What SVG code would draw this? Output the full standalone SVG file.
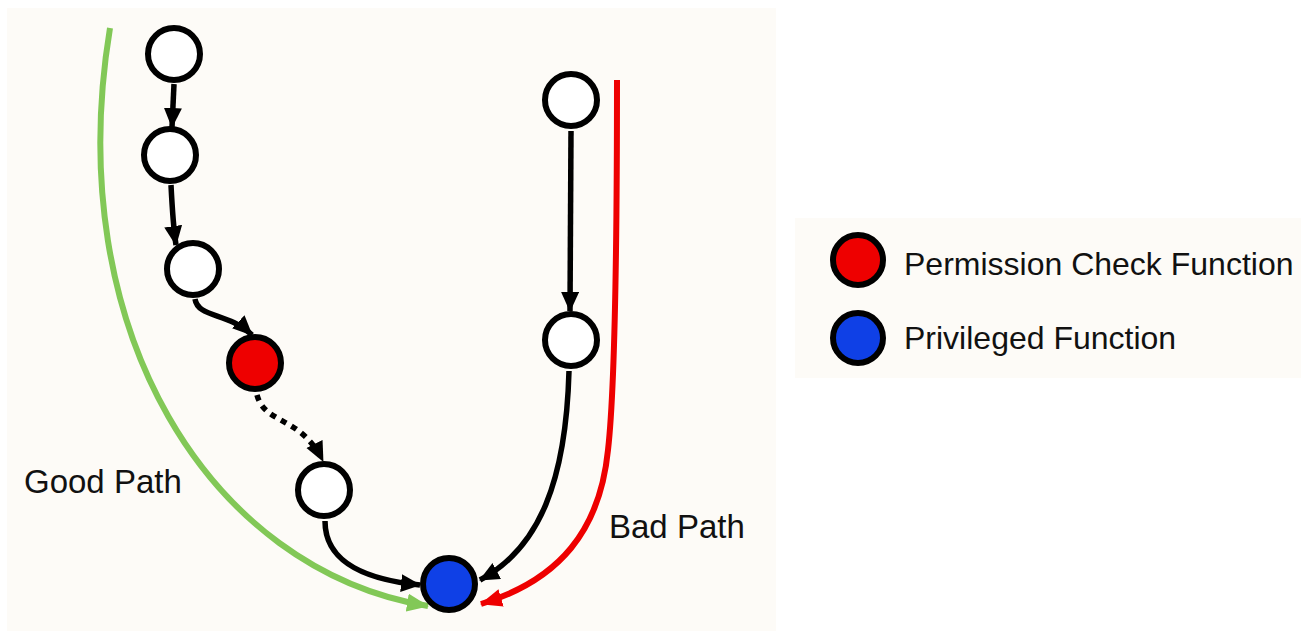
<svg xmlns="http://www.w3.org/2000/svg" width="1301" height="631" viewBox="0 0 1301 631">
  <style>
    .panel { fill: #fdfbf7; }
    .node { fill: #ffffff; stroke: #000000; stroke-width: 6; }
    .check { fill: #ee0000; }
    .priv { fill: #0f40e6; }
    .edge { fill: none; stroke: #000000; stroke-width: 5.5; }
    .dotted { stroke-dasharray: 6 6; }
    .good { fill: none; stroke: #82c857; stroke-width: 6; }
    .bad { fill: none; stroke: #ee0000; stroke-width: 6; }
    .label { font-family: "Liberation Sans", Arial, sans-serif; fill: #111111; }
  </style>
  <defs>
    <marker id="arrow" markerUnits="userSpaceOnUse" markerWidth="22" markerHeight="20" refX="19" refY="9" orient="auto">
      <path d="M0,0 L20,9 L0,18 z" fill="#000000"/>
    </marker>
    <marker id="arrow-green" markerUnits="userSpaceOnUse" markerWidth="24" markerHeight="20" refX="21" refY="9" orient="auto">
      <path d="M0,0 L22,9 L0,18 z" fill="#82c857"/>
    </marker>
    <marker id="arrow-red" markerUnits="userSpaceOnUse" markerWidth="24" markerHeight="20" refX="21" refY="9" orient="auto">
      <path d="M0,0 L22,9 L0,18 z" fill="#ee0000"/>
    </marker>
  </defs>

  <!-- backgrounds -->
  <rect class="panel" x="7" y="8" width="769" height="623"/>
  <rect class="panel" x="795" y="218" width="506" height="160"/>

  <!-- connectors -->
  <g id="connectors">
    <path class="good" d="M110,28 C60,330 210,570 428,606" marker-end="url(#arrow-green)"/>
    <path class="bad" d="M617,80 C617,200 616,380 608,450 C600,530 560,580 481,604" marker-end="url(#arrow-red)"/>
    <path class="edge" d="M174,84 L172,127" marker-end="url(#arrow)"/>
    <path class="edge" d="M171,185 C172,205 173,225 176,245" marker-end="url(#arrow)"/>
    <path class="edge" d="M195,299 C198,318 228,312 252,335" marker-end="url(#arrow)"/>
    <path class="edge dotted" d="M257,395 C265,425 300,415 323,461" marker-end="url(#arrow)"/>
    <path class="edge" d="M325,521 C325,565 370,580 420,585" marker-end="url(#arrow)"/>
    <path class="edge" d="M571,131 L570,311" marker-end="url(#arrow)"/>
    <path class="edge" d="M569,371 C566,480 540,548 480,580" marker-end="url(#arrow)"/>
  </g>

  <!-- nodes -->
  <g id="n1"><circle class="node" cx="174" cy="54" r="26"/></g>
  <g id="n2"><circle class="node" cx="170" cy="155" r="26"/></g>
  <g id="n3"><circle class="node" cx="193" cy="269" r="26"/></g>
  <g id="n4-check"><circle class="node check" cx="255" cy="363" r="26"/></g>
  <g id="n5"><circle class="node" cx="324" cy="490" r="26"/></g>
  <g id="n6-privileged"><circle class="node priv" cx="449" cy="584" r="26"/></g>
  <g id="n7"><circle class="node" cx="571" cy="100" r="26"/></g>
  <g id="n8"><circle class="node" cx="571" cy="340" r="26"/></g>

  <!-- path labels -->
  <g id="label-good"><text class="label" x="24" y="493" font-size="33">Good Path</text></g>
  <g id="label-bad"><text class="label" x="609" y="538" font-size="33">Bad Path</text></g>

  <!-- legend -->
  <g id="legend-check">
    <circle class="node check" cx="858" cy="260" r="25" stroke-width="5"/>
    <text class="label" x="904" y="275" font-size="32">Permission Check Function</text>
  </g>
  <g id="legend-privileged">
    <circle class="node priv" cx="858" cy="338" r="25" stroke-width="5"/>
    <text class="label" x="904" y="349" font-size="32">Privileged Function</text>
  </g>
</svg>
